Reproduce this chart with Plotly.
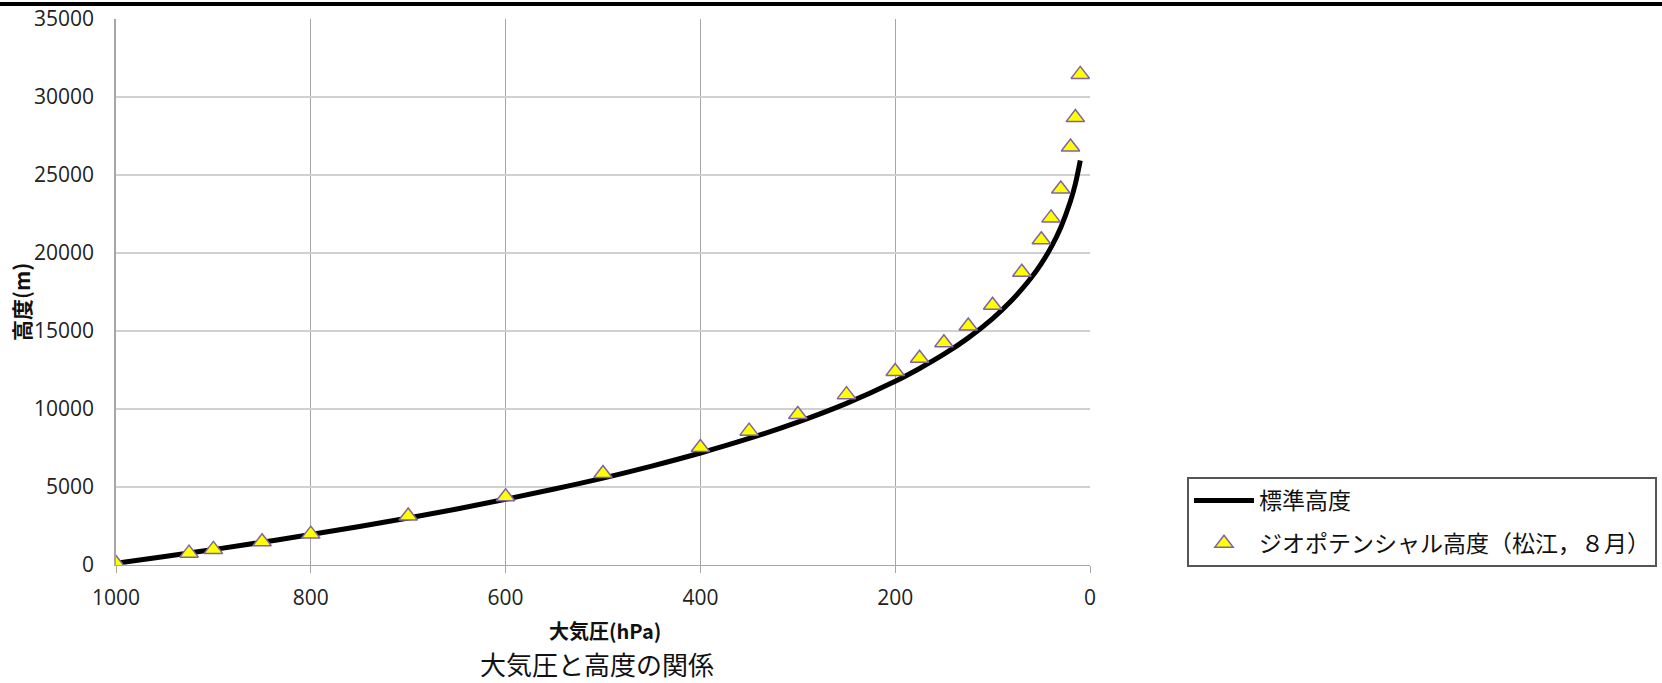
import plotly.graph_objects as go

# standard height curve
std_p = [1000, 950, 900, 850, 800, 750, 700, 650, 600, 550, 500, 450, 400, 350, 300,
         250, 200, 175, 150, 125, 100, 80, 70, 60, 50, 40, 30, 20, 15, 10]
std_h = [110, 540, 990, 1460, 1950, 2470, 3010, 3590, 4210, 4870, 5570, 6340, 7180, 8110, 9160,
         10360, 11780, 12600, 13510, 14560, 15800, 16990, 17680, 18440, 19320, 20360, 21640, 23330, 24440, 25930]

# geopotential height, Matsue, August
gp_p = [1000, 925, 900, 850, 800, 700, 600, 500, 400, 350, 300, 250,
        200, 175, 150, 125, 100, 70, 50, 40, 30, 20, 15, 10]
gp_h = [100, 760, 1000, 1490, 1980, 3140, 4380, 5860, 7530, 8580, 9650, 10920,
        12400, 13250, 14250, 15320, 16650, 18770, 20850, 22250, 24100, 26800, 28680, 31450]

x_ticks = [1000, 800, 600, 400, 200, 0]
y_ticks = [0, 5000, 10000, 15000, 20000, 25000, 30000, 35000]

FONT = "Open Sans, Noto Sans CJK JP, sans-serif"
JP = "Noto Sans CJK JP, sans-serif"

# plot area in pixels
W, H = 1662, 683
L, R, T, B = 116, 1090, 19, 565
pw, ph = R - L, B - T


def px(xp):
    return (xp - L) / pw


def py(yp):
    return (B - yp) / ph


fig = go.Figure()
fig.add_trace(go.Scatter(x=std_p, y=std_h, mode='lines', line=dict(color='black', width=5, shape='spline'),
                         name='標準高度', legendgroup='a'))
fig.add_trace(go.Scatter(x=gp_p, y=gp_h, mode='markers', name='ジオポテンシャル高度（松江，８月）', legendgroup='b',
                         marker=dict(symbol='triangle-up', size=16, color='#ffff00',
                                     line=dict(color='#8064a2', width=1.5))))

fig.update_xaxes(range=[1000, 0], tickvals=x_ticks, tickformat='d', showgrid=True, gridcolor='#a6a6a6',
                 gridwidth=1, showline=True, linecolor='#a6a6a6', linewidth=1, ticks='outside', ticklen=7,
                 tickcolor='#a6a6a6', ticklabelstandoff=7, zeroline=False, automargin=False,
                 tickfont=dict(family=FONT, size=21, color='#222'))
fig.update_yaxes(range=[0, 35000], tickvals=y_ticks, tickformat='d', showgrid=True, gridcolor='#d0d0d0',
                 gridwidth=1.5, showline=True, linecolor='#a6a6a6', linewidth=1.5, ticks='', ticklen=0,
                 zeroline=False, ticklabelstandoff=16, automargin=False,
                 tickfont=dict(family=FONT, size=21, color='#222'))

fig.add_annotation(text='<b>大気圧(hPa)</b>', x=px(605), y=py(630), xref='paper', yref='paper',
                   xanchor='center', yanchor='middle',
                   showarrow=False, font=dict(family=JP, size=20, color='#111'))
fig.add_annotation(text='<b>高度(m)</b>', x=px(21), y=py(302), xref='paper', yref='paper', textangle=-90,
                   xanchor='center', yanchor='middle',
                   showarrow=False, font=dict(family=JP, size=21, color='#111'))
fig.add_annotation(text='大気圧と高度の関係', x=px(597), y=py(663), xref='paper', yref='paper',
                   xanchor='center', yanchor='middle',
                   showarrow=False, font=dict(family=JP, size=26, color='#111'))

# black rule along the top of the image
fig.add_shape(type='line', xref='paper', yref='paper', x0=px(0), x1=px(W), y0=py(4), y1=py(4),
              line=dict(color='black', width=4))

fig.update_layout(
    width=W, height=H,
    margin=dict(l=L, r=W - R, t=T, b=H - B, autoexpand=False),
    plot_bgcolor='white', paper_bgcolor='white',
    showlegend=True,
    legend=dict(x=px(1187), y=py(477), xanchor='left', yanchor='top', traceorder='grouped',
                tracegroupgap=10, bordercolor='#555', borderwidth=2, bgcolor='white',
                itemwidth=60, font=dict(family=JP, size=23, color='#111')),
)

# drop the page's default body margin so the figure sits at the window's corner
fig.write_html("out.html", config={'displayModeBar': False},
               post_script="document.body.style.margin='0px';")
